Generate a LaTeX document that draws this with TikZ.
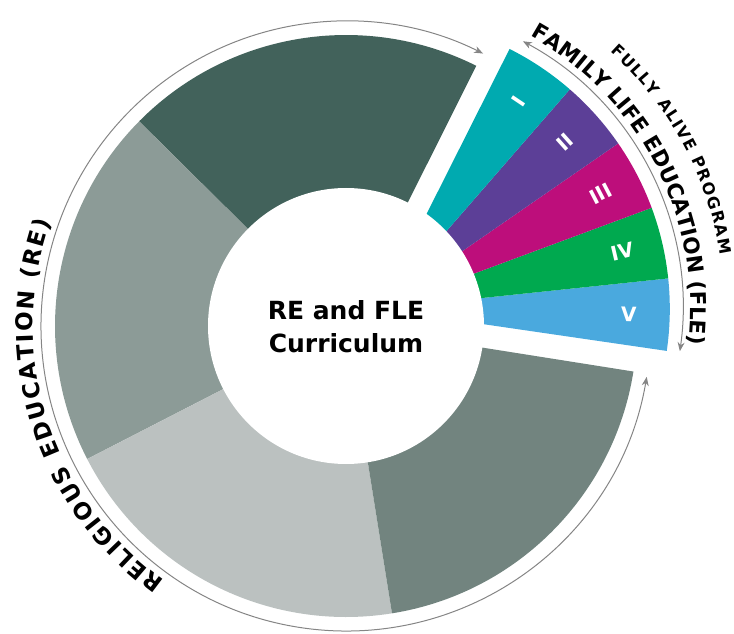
\documentclass[tikz,border=0pt]{standalone}
\usepackage{fontspec}
\setmainfont{DejaVu Sans}
\usetikzlibrary{arrows.meta}
\usetikzlibrary{decorations.text}
\usetikzlibrary{calc}

\definecolor{reDark}{HTML}{42625B}
\definecolor{reMid}{HTML}{8C9B97}
\definecolor{reLight}{HTML}{BBC1C0}
\definecolor{reSlate}{HTML}{72847F}
\definecolor{fleTeal}{HTML}{00AAB0}
\definecolor{flePurple}{HTML}{5C3F97}
\definecolor{fleMagenta}{HTML}{BD0E7B}
\definecolor{fleGreen}{HTML}{00A94F}
\definecolor{fleBlue}{HTML}{4AA9DE}
\definecolor{spanGray}{HTML}{858585}

\begin{document}
\begin{tikzpicture}[x=1pt,y=1pt,
    numeral/.style={text=white,font=\bfseries\fontsize{20}{20}\selectfont},
    span/.style={draw=spanGray,line width=1pt,{Stealth[length=9pt,width=7pt]}-{Stealth[length=9pt,width=7pt]}},
    arclabel/.style={decorate,decoration={text along path,text align={fit to path},text={#1}}}]
    \useasboundingbox (0,0) rectangle (734,633);
    \coordinate (hub) at (346,307);
    \coordinate (flehub) at ($(hub)+(27.5:37)$);
    % religious education slices
    \foreach \a/\b/\c in {63.4/135.3/reDark,135.3/207.2/reMid,207.2/279.1/reLight,279.1/351/reSlate}
        \fill[\c] (hub) -- ++(\a:291) arc[start angle=\a,end angle=\b,radius=291] -- cycle;
    % family life education slices, pulled out
    \foreach \c [count=\i from 0] in {fleBlue,fleGreen,fleMagenta,flePurple,fleTeal} {
        \pgfmathsetmacro\a{-8.3+14.32*\i}
        \pgfmathsetmacro\b{\a+14.32}
        \fill[\c] (flehub) -- ++(\a:291) arc[start angle=\a,end angle=\b,radius=291] -- cycle;
    }
    \fill[white] (hub) circle[radius=138];
    \node[align=center,font=\bfseries\fontsize{25}{33}\selectfont] (title) at (346,306) {RE and FLE\\Curriculum};
    \foreach \n [count=\i from 0] in {V,IV,III,II,I} {
        \pgfmathsetmacro\m{-1.14+14.32*\i}
        \node[numeral,rotate=\m] (n\i) at ($(flehub)+(\m:250)$) {\n};
    }
    % arrows round the two parts
    \draw[span] ($(hub)+(350.4:305)$) arc[start angle=350.4,end angle=63.3,radius=305];
    \draw[span] ($(flehub)+(-8:304)$) arc[start angle=-8,end angle=61.7,radius=304];
    % curved labels
    \path[arclabel={|\bfseries\fontsize{21.5}{22}\selectfont|FAMILY LIFE EDUCATION (FLE)}]
        ($(flehub)+(61:312)$) arc[start angle=61,end angle=-6.5,radius=312];
    \path[arclabel={|\bfseries\fontsize{16}{16}\selectfont|FULLY ALIVE PROGRAM}]
        ($(flehub)+(48:346)$) arc[start angle=48,end angle=9,radius=346];
    \path[arclabel={|\bfseries\fontsize{23}{23}\selectfont|RELIGIOUS EDUCATION (RE)}]
        ($(hub)+(234.5:313)$) arc[start angle=234.5,end angle=160.5,radius=313];
\end{tikzpicture}
\end{document}
